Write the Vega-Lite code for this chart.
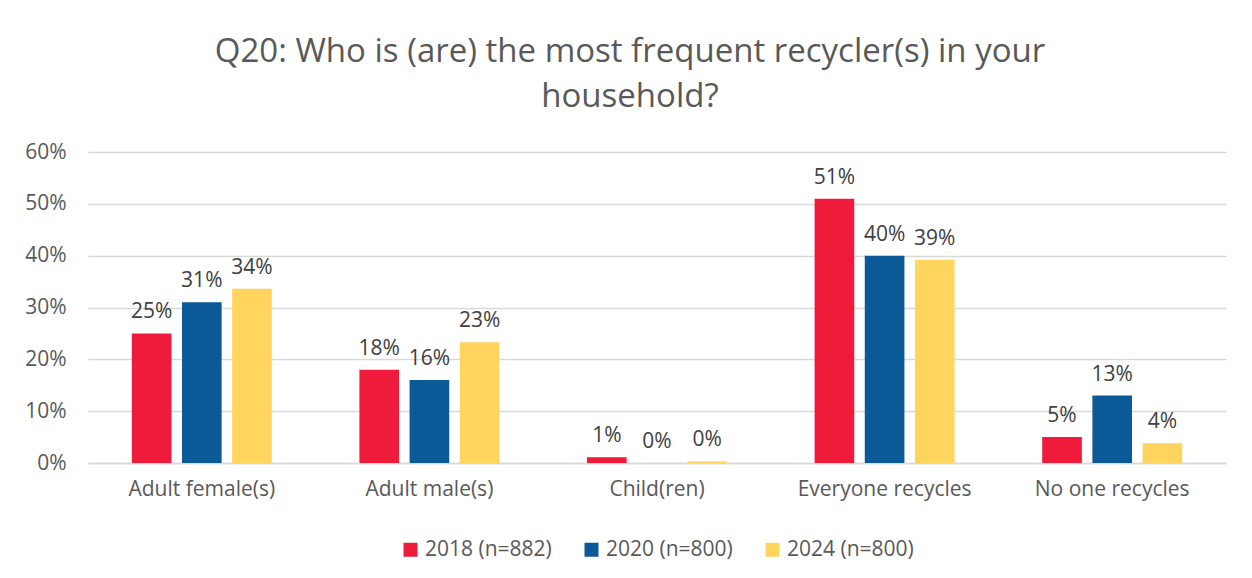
{
  "$schema": "https://vega.github.io/schema/vega-lite/v6.json",
  "width": 1138,
  "height": 311,
  "autosize": {"type": "none"},
  "padding": {"left": 88, "top": 152, "right": 26, "bottom": 115},
  "background": "white",
  "title": {
    "text": ["Q20: Who is (are) the most frequent recycler(s) in your", "household?"],
    "font": "Open Sans",
    "fontSize": 33,
    "fontWeight": "normal",
    "color": "#595959",
    "anchor": "middle",
    "dx": -27,
    "offset": 27,
    "lineHeight": 45
  },
  "data": {
    "values": [
      {"category": "Adult female(s)", "series": "2018 (n=882)", "value": 0.25},
      {"category": "Adult female(s)", "series": "2020 (n=800)", "value": 0.31},
      {"category": "Adult female(s)", "series": "2024 (n=800)", "value": 0.336},
      {"category": "Adult male(s)", "series": "2018 (n=882)", "value": 0.18},
      {"category": "Adult male(s)", "series": "2020 (n=800)", "value": 0.16},
      {"category": "Adult male(s)", "series": "2024 (n=800)", "value": 0.233},
      {"category": "Child(ren)", "series": "2018 (n=882)", "value": 0.011},
      {"category": "Child(ren)", "series": "2020 (n=800)", "value": 0.0},
      {"category": "Child(ren)", "series": "2024 (n=800)", "value": 0.003},
      {"category": "Everyone recycles", "series": "2018 (n=882)", "value": 0.51},
      {"category": "Everyone recycles", "series": "2020 (n=800)", "value": 0.40},
      {"category": "Everyone recycles", "series": "2024 (n=800)", "value": 0.392},
      {"category": "No one recycles", "series": "2018 (n=882)", "value": 0.05},
      {"category": "No one recycles", "series": "2020 (n=800)", "value": 0.13},
      {"category": "No one recycles", "series": "2024 (n=800)", "value": 0.038}
    ]
  },
  "encoding": {
    "x": {
      "field": "category",
      "type": "nominal",
      "sort": null,
      "scale": {"paddingInner": 0.385, "paddingOuter": 0.1925},
      "axis": {
        "title": null,
        "labelAngle": 0,
        "labelFont": "Open Sans",
        "labelFontSize": 21,
        "labelColor": "#595959",
        "labelPadding": 15,
        "ticks": false,
        "domainColor": "#d9d9d9",
        "domainWidth": 1.5
      }
    },
    "xOffset": {
      "field": "series",
      "type": "nominal",
      "scale": {"paddingInner": 0.21, "paddingOuter": 0}
    },
    "y": {
      "field": "value",
      "type": "quantitative",
      "scale": {"domain": [0, 0.6], "nice": false},
      "axis": {
        "title": null,
        "format": ".0%",
        "values": [0, 0.1, 0.2, 0.3, 0.4, 0.5, 0.6],
        "labelOverlap": false,
        "labelFont": "Open Sans",
        "labelFontSize": 21,
        "labelColor": "#595959",
        "labelPadding": 22,
        "ticks": false,
        "domain": false,
        "gridColor": "#d9d9d9",
        "gridWidth": 1.5
      }
    }
  },
  "layer": [
    {
      "mark": {"type": "bar"},
      "encoding": {
        "color": {
          "field": "series",
          "type": "nominal",
          "scale": {"range": ["#EE1B3B", "#0B5996", "#FFD55E"]},
          "legend": {
            "title": null,
            "orient": "bottom",
            "direction": "horizontal",
            "symbolType": "square",
            "symbolSize": 196,
            "symbolStrokeWidth": 0,
            "labelFont": "Open Sans",
            "labelFontSize": 21,
            "labelColor": "#595959",
            "columnPadding": 29,
            "offset": 40,
            "labelLimit": 300
          }
        }
      }
    },
    {
      "mark": {"type": "text", "baseline": "bottom", "dy": -11, "font": "Open Sans", "fontSize": 21, "color": "#404040"},
      "encoding": {
        "text": {"field": "value", "type": "quantitative", "format": ".0%"}
      }
    }
  ],
  "config": {
    "view": {"stroke": null},
    "legend": {"layout": {"bottom": {"anchor": "middle"}}}
  }
}
